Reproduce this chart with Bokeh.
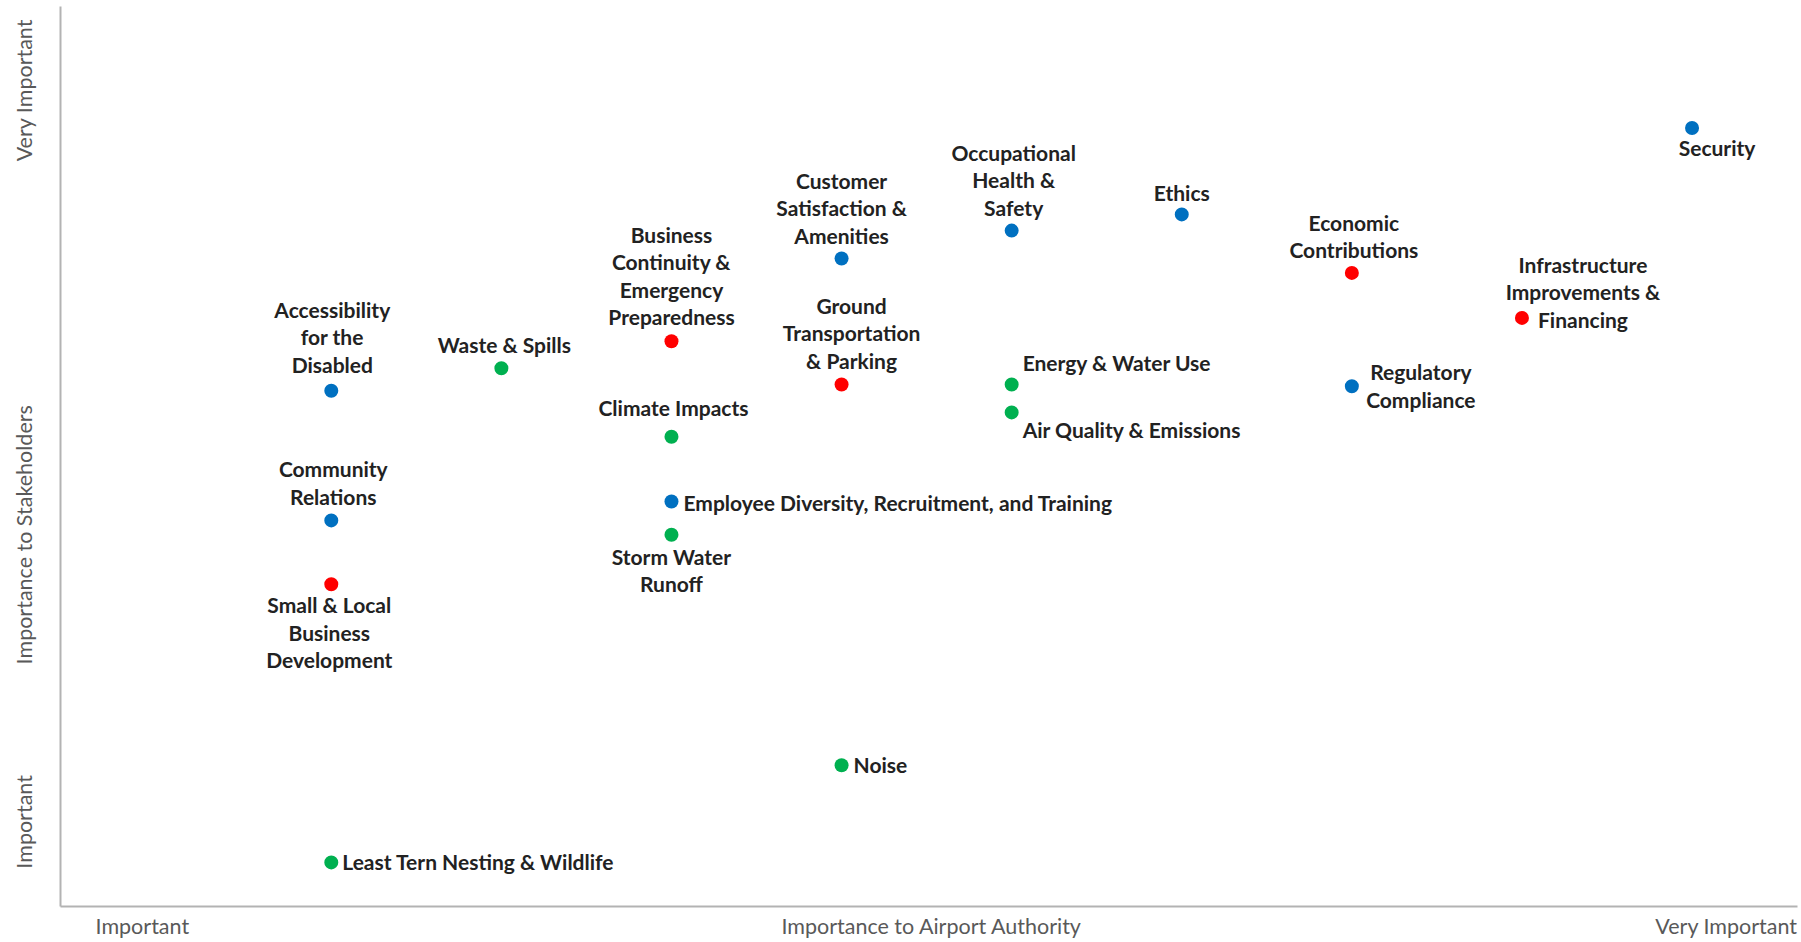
from bokeh.plotting import figure
from bokeh.models import ColumnDataSource, Range1d, FixedTicker
from bokeh.core.properties import value, field
from bokeh.embed import file_html
from bokeh.resources import INLINE

# ---- data -------------------------------------------------------------
topics = [
    "Security",
    "Ethics",
    "Occupational\nHealth &\nSafety",
    "Customer\nSatisfaction &\nAmenities",
    "Economic\nContributions",
    "Infrastructure\nImprovements &\nFinancing",
    "Business\nContinuity &\nEmergency\nPreparedness",
    "Waste & Spills",
    "Accessibility\nfor the\nDisabled",
    "Ground\nTransportation\n& Parking",
    "Energy & Water Use",
    "Regulatory\nCompliance",
    "Air Quality & Emissions",
    "Climate Impacts",
    "Employee Diversity, Recruitment, and Training",
    "Community\nRelations",
    "Storm Water\nRunoff",
    "Small & Local\nBusiness\nDevelopment",
    "Noise",
    "Least Tern Nesting & Wildlife",
]
# importance to airport authority (x) and to stakeholders (y)
authority = [9, 6, 5, 4, 7, 8, 3, 2, 1, 4, 5, 7, 5, 3, 3, 1, 3, 1, 4, 1]
stakeholders = [8.65, 7.69, 7.51, 7.20, 7.04, 6.54, 6.28, 5.98, 5.73, 5.80,
                5.80, 5.78, 5.49, 5.22, 4.50, 4.29, 4.13, 3.58, 1.57, 0.49]
groups = ["Social", "Social", "Social", "Social", "Economic", "Economic",
          "Economic", "Environmental", "Social", "Economic", "Environmental",
          "Social", "Environmental", "Environmental", "Social", "Social",
          "Environmental", "Economic", "Environmental", "Environmental"]

x_tick_values = [-0.111, 4.531, 9.202]
x_tick_labels = ["Important", "Importance to Airport Authority", "Very Important"]
y_tick_values = [0.94, 4.13, 9.07]
y_tick_labels = ["Important", "Importance to Stakeholders", "Very Important"]

# ---- styling / layout --------------------------------------------------
group_colors = {"Social": "#0070C0", "Economic": "#FF0000", "Environmental": "#00B050"}
# label placement: (align, dx px, dy px, positive dy = down)
label_place = [
    ("center", 25, 19), ("center", 0, -22), ("center", 2, -51), ("center", 0, -51),
    ("center", 2, -37), ("center", 61, -26), ("center", 0, -66), ("center", 3, -24),
    ("center", 1, -54), ("center", 10, -52), ("left", 11, -22), ("center", 69, -1),
    ("left", 11, 17), ("center", 2, -29), ("left", 12, 1), ("center", 2, -38),
    ("center", 0, 35), ("center", -2, 48), ("left", 12, -1), ("left", 11, -1),
]

src = ColumnDataSource(dict(
    x=authority, y=stakeholders, label=topics,
    color=[group_colors[g] for g in groups],
    align=[lp[0] for lp in label_place],
    dx=[lp[1] for lp in label_place],
    dy=[lp[2] for lp in label_place],
))

p = figure(width=1800, height=942, output_backend="svg", toolbar_location=None,
           x_range=Range1d(-0.592, 9.620), y_range=Range1d(0, 10),
           min_border_left=60, min_border_bottom=36, min_border_top=6,
           min_border_right=3)
p.grid.visible = False
p.outline_line_color = None
p.background_fill_color = "white"
p.border_fill_color = "white"

for ax in (p.xaxis[0], p.yaxis[0]):
    ax.axis_line_color = "#b3b3b3"
    ax.axis_line_width = 2
    ax.major_tick_line_color = None
    ax.minor_tick_line_color = None
    ax.major_tick_in = 0
    ax.major_tick_out = 0
    ax.minor_tick_in = 0
    ax.minor_tick_out = 0
    ax.major_label_text_font = "Lato"
    ax.major_label_text_font_size = "21.5px"
    ax.major_label_text_color = "#595959"

p.xaxis.ticker = FixedTicker(ticks=x_tick_values)
p.xaxis.major_label_overrides = dict(zip(x_tick_values, x_tick_labels))
p.xaxis.major_label_standoff = 6
p.yaxis.ticker = FixedTicker(ticks=y_tick_values)
p.yaxis.major_label_overrides = dict(zip(y_tick_values, y_tick_labels))
p.yaxis.major_label_orientation = "parallel"
p.yaxis.major_label_standoff = 23

p.scatter(x="x", y="y", source=src, size=14, fill_color="color", line_color=None)
p.text(x="x", y="y", text="label", source=src, text_font=value("Lato"),
       text_font_style="bold", text_font_size="21px", text_color="#222222",
       text_align=field("align"), text_baseline="middle",
       x_offset="dx", y_offset="dy", text_line_height=1.1)

open("out.html", "w").write(file_html(p, INLINE))
